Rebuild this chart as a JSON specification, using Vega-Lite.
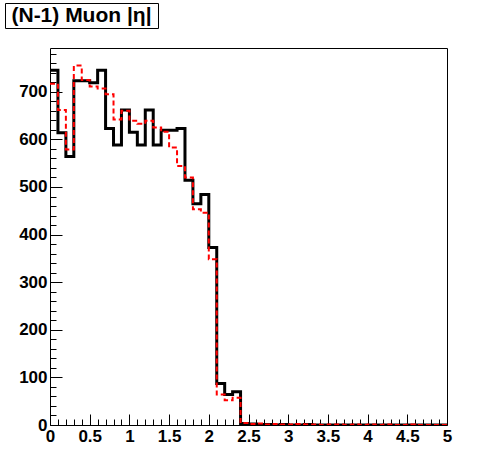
{
  "$schema": "https://vega.github.io/schema/vega-lite/v6.json",
  "padding": {"left": 4, "top": 2, "right": 0, "bottom": 0},
  "background": "white",
  "spacing": 18,
  "config": {
    "view": {"stroke": "black", "strokeWidth": 1, "fill": "white"},
    "font": "Liberation Sans"
  },
  "datasets": {
    "hist": [
      {"lo": 0.0, "solid": 745, "dashed": 717},
      {"lo": 0.1, "solid": 614, "dashed": 662},
      {"lo": 0.2, "solid": 564, "dashed": 579},
      {"lo": 0.3, "solid": 723, "dashed": 755},
      {"lo": 0.4, "solid": 723, "dashed": 725},
      {"lo": 0.5, "solid": 719, "dashed": 711},
      {"lo": 0.6, "solid": 745, "dashed": 707},
      {"lo": 0.7, "solid": 623, "dashed": 695},
      {"lo": 0.8, "solid": 588, "dashed": 642},
      {"lo": 0.9, "solid": 662, "dashed": 660},
      {"lo": 1.0, "solid": 615, "dashed": 639},
      {"lo": 1.1, "solid": 588, "dashed": 633},
      {"lo": 1.2, "solid": 662, "dashed": 639},
      {"lo": 1.3, "solid": 588, "dashed": 625},
      {"lo": 1.4, "solid": 619, "dashed": 616},
      {"lo": 1.5, "solid": 619, "dashed": 583},
      {"lo": 1.6, "solid": 623, "dashed": 544},
      {"lo": 1.7, "solid": 514, "dashed": 520},
      {"lo": 1.8, "solid": 465, "dashed": 453},
      {"lo": 1.9, "solid": 484, "dashed": 446},
      {"lo": 2.0, "solid": 373, "dashed": 348},
      {"lo": 2.1, "solid": 87, "dashed": 64},
      {"lo": 2.2, "solid": 64, "dashed": 52},
      {"lo": 2.3, "solid": 70, "dashed": 57},
      {"lo": 2.4, "solid": 3, "dashed": 4},
      {"lo": 2.5, "solid": 2, "dashed": 2},
      {"lo": 2.6, "solid": 1, "dashed": 3},
      {"lo": 2.7, "solid": 1, "dashed": 1},
      {"lo": 2.8, "solid": 0, "dashed": 2},
      {"lo": 2.9, "solid": 1, "dashed": 1},
      {"lo": 3.0, "solid": 0, "dashed": 1},
      {"lo": 3.1, "solid": 0, "dashed": 2},
      {"lo": 3.2, "solid": 1, "dashed": 1},
      {"lo": 3.3, "solid": 0, "dashed": 1},
      {"lo": 3.4, "solid": 0, "dashed": 0},
      {"lo": 3.5, "solid": 0, "dashed": 1},
      {"lo": 3.6, "solid": 0, "dashed": 1},
      {"lo": 3.7, "solid": 0, "dashed": 0},
      {"lo": 3.8, "solid": 0, "dashed": 1},
      {"lo": 3.9, "solid": 0, "dashed": 0},
      {"lo": 4.0, "solid": 0, "dashed": 1},
      {"lo": 4.1, "solid": 0, "dashed": 0},
      {"lo": 4.2, "solid": 0, "dashed": 1},
      {"lo": 4.3, "solid": 0, "dashed": 0},
      {"lo": 4.4, "solid": 0, "dashed": 0},
      {"lo": 4.5, "solid": 0, "dashed": 1},
      {"lo": 4.6, "solid": 0, "dashed": 0},
      {"lo": 4.7, "solid": 0, "dashed": 0},
      {"lo": 4.8, "solid": 0, "dashed": 0},
      {"lo": 4.9, "solid": 0, "dashed": 0},
      {"lo": 5.0, "solid": 0, "dashed": 0}
    ]
  },
  "vconcat": [
    {
      "width": 153,
      "height": 25,
      "view": {"stroke": "black", "strokeWidth": 1, "fill": "white"},
      "data": {"values": [{"label": "(N-1) Muon |η|"}]},
      "mark": {"type": "text", "fontSize": 21, "fontWeight": "bold", "color": "black", "font": "Liberation Sans"},
      "encoding": {"text": {"field": "label"}}
    },
    {
      "spacing": 0,
      "hconcat": [
        {
          "width": 1,
          "height": 377,
          "view": {"stroke": null, "fill": null},
          "data": {"values": []},
          "mark": "point"
        },
        {
          "width": 397,
          "height": 377,
          "data": {"name": "hist"},
          "resolve": {"axis": {"x": "independent", "y": "independent"}},
          "layer": [
            {
              "mark": {"type": "line", "interpolate": "step-after", "color": "black", "strokeWidth": 3, "clip": true},
              "encoding": {
                "x": {
                  "field": "lo", "type": "quantitative",
                  "scale": {"domain": [0, 5], "nice": false, "zero": false},
                  "axis": {
                    "orient": "bottom", "title": null, "domain": false,
                    "values": [0, 0.5, 1, 1.5, 2, 2.5, 3, 3.5, 4, 4.5, 5],
                    "format": "~g", "grid": false,
                    "tickSize": -11, "tickColor": "black", "tickWidth": 1,
                    "labelPadding": 14, "labelFontSize": 17, "labelFontWeight": "bold",
                    "labelColor": "black", "labelFont": "Liberation Sans", "labelFlush": false, "labelOverlap": false
                  }
                },
                "y": {
                  "field": "solid", "type": "quantitative",
                  "scale": {"domain": [0, 792], "nice": false},
                  "axis": {
                    "orient": "left", "title": null, "domain": false,
                    "values": [0, 100, 200, 300, 400, 500, 600, 700],
                    "format": "d", "grid": false,
                    "tickSize": -12, "tickColor": "black", "tickWidth": 1,
                    "labelPadding": 15, "labelFontSize": 17, "labelFontWeight": "bold",
                    "labelColor": "black", "labelFont": "Liberation Sans", "labelOverlap": false,
                    "minExtent": 43, "maxExtent": 43
                  }
                }
              }
            },
            {
              "mark": {"type": "line", "interpolate": "step-after", "color": "#ff0000", "strokeWidth": 2, "strokeDash": [5, 3], "clip": true},
              "encoding": {
                "x": {
                  "field": "lo", "type": "quantitative",
                  "axis": {
                    "orient": "bottom", "title": null, "domain": false, "labels": false, "grid": false,
                    "values": [0.1, 0.2, 0.3, 0.4, 0.6, 0.7, 0.8, 0.9, 1.1, 1.2, 1.3, 1.4, 1.6, 1.7, 1.8, 1.9, 2.1, 2.2, 2.3, 2.4, 2.6, 2.7, 2.8, 2.9, 3.1, 3.2, 3.3, 3.4, 3.6, 3.7, 3.8, 3.9, 4.1, 4.2, 4.3, 4.4, 4.6, 4.7, 4.8, 4.9],
                    "tickSize": -6, "tickColor": "black", "tickWidth": 1, "minExtent": 0
                  }
                },
                "y": {
                  "field": "dashed", "type": "quantitative",
                  "axis": {
                    "orient": "left", "title": null, "domain": false, "labels": false, "grid": false,
                    "values": [20, 40, 60, 80, 120, 140, 160, 180, 220, 240, 260, 280, 320, 340, 360, 380, 420, 440, 460, 480, 520, 540, 560, 580, 620, 640, 660, 680, 720, 740, 760, 780],
                    "tickSize": -6, "tickColor": "black", "tickWidth": 1, "minExtent": 0
                  }
                }
              }
            }
          ]
        }
      ]
    }
  ]
}
